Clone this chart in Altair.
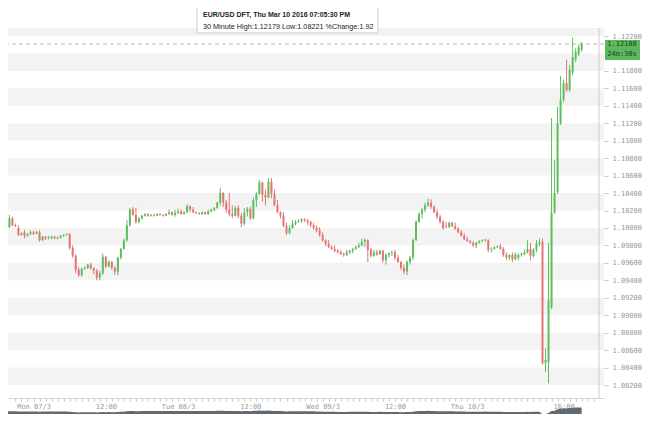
import altair as alt
import pandas as pd

# ---- 30-minute EUR/USD candles (Sun evening -> Thu 19:00) ----
opens = [1.0992,1.1001,1.1011,1.1003,1.1000,1.0992,1.0995,1.0991,1.0993,1.0995,
         1.0993,1.0995,1.0986,1.0990,1.0988,1.0988,1.0990,1.0988,1.0989,1.0991,
         1.0992,1.0993,1.0977,1.0968,1.0952,1.0946,1.0953,1.0954,1.0958,1.0954,
         1.0951,1.0943,1.0948,1.0967,1.0956,1.0961,1.0954,1.0950,1.0966,1.0976,
         1.0986,1.1003,1.1021,1.1015,1.1007,1.1011,1.1014,1.1016,1.1014,1.1015,
         1.1014,1.1016,1.1015,1.1014,1.1016,1.1018,1.1015,1.1017,1.1019,1.1016,
         1.1018,1.1025,1.1021,1.1018,1.1017,1.1016,1.1018,1.1016,1.1019,1.1021,
         1.1023,1.1029,1.1040,1.1029,1.1021,1.1016,1.1014,1.1023,1.1014,1.1005,
         1.1018,1.1022,1.1011,1.1032,1.1039,1.1052,1.1038,1.1035,1.1053,1.1039,
         1.1026,1.1018,1.1014,1.1002,1.0994,1.1000,1.1005,1.1007,1.1008,1.1010,
         1.1009,1.1007,1.1003,1.1000,1.0997,1.0992,1.0986,1.0982,1.0978,1.0976,
         1.0974,1.0972,1.0970,1.0969,1.0972,1.0974,1.0976,1.0978,1.0980,1.0984,
         1.0986,1.0975,1.0968,1.0972,1.0970,1.0974,1.0963,1.0969,1.0971,1.0972,
         1.0966,1.0961,1.0954,1.0950,1.0961,1.0966,1.0986,1.1007,1.1016,1.1021,
         1.1026,1.1029,1.1024,1.1018,1.1013,1.1007,1.1002,1.1001,1.1006,1.1002,
         1.0999,1.0995,1.0991,1.0987,1.0985,1.0983,1.0980,1.0983,1.0985,1.0986,
         1.0986,1.0975,1.0976,1.0978,1.0979,1.0976,1.0969,1.0966,1.0969,1.0964,
         1.0966,1.0969,1.0970,1.0972,1.0976,1.0968,1.0975,1.0982,1.0984,1.0845,
         1.0846,1.0909,1.1018,1.1041,1.1120,1.1147,1.1166,1.1158,1.1178,1.1193,
         1.1199,1.1204]
highs = [1.1003,1.1015,1.1013,1.1005,1.1003,1.0995,1.0998,1.0994,1.0997,1.0997,
         1.0997,1.0997,1.0991,1.0991,1.0991,1.0991,1.0991,1.0990,1.0992,1.0993,
         1.0994,1.0994,1.0980,1.0970,1.0955,1.0955,1.0956,1.0959,1.0960,1.0955,
         1.0953,1.0951,1.0971,1.0968,1.0963,1.0962,1.0956,1.0967,1.0977,1.0988,
         1.1009,1.1023,1.1024,1.1023,1.1013,1.1015,1.1017,1.1017,1.1016,1.1016,
         1.1017,1.1017,1.1016,1.1017,1.1021,1.1019,1.1021,1.1022,1.1021,1.1019,
         1.1027,1.1026,1.1024,1.1019,1.1018,1.1019,1.1019,1.1021,1.1022,1.1024,
         1.1030,1.1046,1.1041,1.1032,1.1040,1.1026,1.1025,1.1026,1.1017,1.1023,
         1.1024,1.1024,1.1035,1.1041,1.1055,1.1053,1.1044,1.1057,1.1057,1.1044,
         1.1032,1.1019,1.1018,1.1006,1.1003,1.1009,1.1009,1.1010,1.1011,1.1011,
         1.1010,1.1008,1.1006,1.1003,1.1001,1.0995,1.0987,1.0986,1.0980,1.0980,
         1.0976,1.0975,1.0972,1.0975,1.0975,1.0977,1.0980,1.0983,1.0988,1.0988,
         1.0987,1.0977,1.0975,1.0975,1.0975,1.0975,1.0971,1.0972,1.0974,1.0975,
         1.0969,1.0962,1.0958,1.0963,1.0968,1.0988,1.1009,1.1018,1.1023,1.1029,
         1.1034,1.1033,1.1026,1.1021,1.1015,1.1009,1.1007,1.1007,1.1007,1.1006,
         1.1001,1.0998,1.0994,1.0990,1.0986,1.0985,1.0984,1.0986,1.0987,1.0987,
         1.0987,1.0978,1.0979,1.0980,1.0982,1.0978,1.0972,1.0970,1.0972,1.0972,
         1.0971,1.0972,1.0975,1.0986,1.0983,1.0977,1.0986,1.0988,1.0988,1.0862,
         1.0983,1.1126,1.1078,1.1139,1.1174,1.1170,1.1193,1.1187,1.1218,1.1206,
         1.1210,1.1213]
lows = [1.0990,1.1000,1.1002,1.1001,1.0991,1.0991,1.0988,1.0990,1.0992,1.0992,
        1.0993,1.0984,1.0985,1.0986,1.0987,1.0987,1.0987,1.0987,1.0988,1.0990,
        1.0991,1.0975,1.0966,1.0948,1.0944,1.0944,1.0952,1.0953,1.0952,1.0947,
        1.0940,1.0940,1.0946,1.0954,1.0955,1.0952,1.0946,1.0946,1.0964,1.0975,
        1.0984,1.1002,1.1014,1.1005,1.1005,1.1010,1.1013,1.1013,1.1013,1.1013,
        1.1014,1.1014,1.1013,1.1014,1.1015,1.1014,1.1013,1.1016,1.1015,1.1015,
        1.1017,1.1018,1.1017,1.1016,1.1015,1.1015,1.1015,1.1015,1.1018,1.1019,
        1.1022,1.1026,1.1024,1.1017,1.1013,1.1011,1.1013,1.1011,1.1001,1.1003,
        1.1013,1.1009,1.1010,1.1024,1.1038,1.1030,1.1026,1.1034,1.1034,1.1025,
        1.1017,1.1011,1.1001,1.0992,1.0993,1.0999,1.1003,1.1006,1.1006,1.1007,
        1.1003,1.1001,1.0998,1.0995,1.0990,1.0984,1.0979,1.0977,1.0975,1.0972,
        1.0971,1.0969,1.0967,1.0968,1.0970,1.0971,1.0975,1.0977,1.0979,1.0978,
        1.0961,1.0966,1.0967,1.0968,1.0969,1.0960,1.0958,1.0966,1.0968,1.0963,
        1.0960,1.0952,1.0947,1.0946,1.0958,1.0963,1.0985,1.1006,1.1011,1.1018,
        1.1024,1.1022,1.1017,1.1010,1.1005,1.0998,1.1000,1.1000,1.1001,1.0998,
        1.0994,1.0990,1.0986,1.0984,1.0982,1.0978,1.0977,1.0982,1.0984,1.0984,
        1.0972,1.0972,1.0975,1.0977,1.0975,1.0967,1.0963,1.0963,1.0961,1.0963,
        1.0963,1.0967,1.0969,1.0971,1.0963,1.0966,1.0972,1.0979,1.0843,1.0835,
        1.0822,1.0907,1.1016,1.1039,1.1118,1.1144,1.1156,1.1156,1.1175,1.1190,
        1.1197,1.1202]
closes = [1.1001,1.1011,1.1003,1.1002,1.0992,1.0994,1.0991,1.0993,1.0995,1.0993,
          1.0995,1.0986,1.0990,1.0988,1.0989,1.0990,1.0988,1.0989,1.0991,1.0992,
          1.0993,1.0977,1.0968,1.0952,1.0946,1.0953,1.0954,1.0958,1.0954,1.0951,
          1.0943,1.0948,1.0967,1.0956,1.0961,1.0954,1.0950,1.0966,1.0976,1.0986,
          1.1003,1.1021,1.1015,1.1007,1.1011,1.1014,1.1016,1.1014,1.1015,1.1014,
          1.1016,1.1015,1.1014,1.1016,1.1018,1.1015,1.1017,1.1019,1.1016,1.1018,
          1.1025,1.1021,1.1018,1.1017,1.1016,1.1018,1.1016,1.1019,1.1021,1.1023,
          1.1029,1.1040,1.1029,1.1021,1.1016,1.1014,1.1023,1.1014,1.1005,1.1018,
          1.1022,1.1011,1.1032,1.1039,1.1052,1.1038,1.1035,1.1053,1.1039,1.1026,
          1.1018,1.1014,1.1002,1.0994,1.1000,1.1005,1.1007,1.1008,1.1010,1.1009,
          1.1007,1.1003,1.1000,1.0997,1.0992,1.0986,1.0982,1.0978,1.0976,1.0974,
          1.0972,1.0970,1.0969,1.0972,1.0974,1.0976,1.0978,1.0980,1.0984,1.0986,
          1.0975,1.0968,1.0972,1.0970,1.0974,1.0963,1.0969,1.0971,1.0972,1.0966,
          1.0961,1.0954,1.0950,1.0961,1.0966,1.0986,1.1007,1.1016,1.1021,1.1026,
          1.1029,1.1024,1.1018,1.1013,1.1007,1.1000,1.1001,1.1006,1.1002,1.0999,
          1.0995,1.0991,1.0987,1.0985,1.0983,1.0980,1.0983,1.0985,1.0986,1.0987,
          1.0975,1.0976,1.0978,1.0979,1.0976,1.0969,1.0966,1.0969,1.0964,1.0970,
          1.0969,1.0970,1.0972,1.0976,1.0968,1.0975,1.0982,1.0984,1.0845,1.0849,
          1.0917,1.1018,1.1040,1.1120,1.1147,1.1166,1.1158,1.1181,1.1196,1.1202,
          1.1207,1.1211]

first_hour = -4.5          # hours relative to Mon 07/3 00:00
candle_step = 0.5          # 30-minute candles
hours = [first_hour + candle_step * i for i in range(len(closes))]

# ---- axes / annotations ----
y_tick_values = [1.082, 1.084, 1.086, 1.088, 1.090, 1.092, 1.094, 1.096, 1.098,
                 1.100, 1.102, 1.104, 1.106, 1.108, 1.110, 1.112, 1.114, 1.116,
                 1.118, 1.122]
band_lo = [1.082, 1.086, 1.090, 1.094, 1.098, 1.102, 1.106, 1.110, 1.114, 1.118, 1.122]
band_hi = [1.084, 1.088, 1.092, 1.096, 1.100, 1.104, 1.108, 1.112, 1.116, 1.120, 1.12292]
x_label_hours = [0, 12, 24, 36, 48, 60, 72, 88]
x_label_text = ["Mon 07/3", "12:00", "Tue 08/3", "12:00", "Wed 09/3", "12:00", "Thu 10/3", "16:00"]
x_minor_ticks = list(range(-3, 94))

last_price = 1.12108
countdown = "24m:30s"
title_line1 = "EUR/USD DFT, Thu Mar 10 2016 07:05:30 PM"
title_line2 = "30 Minute High:1.12179 Low:1.08221 %Change:1.92"

x_domain = [-3.407, 93.88]
y_domain = [1.08051, 1.12521]
plot_top_price = 1.12292
nav_domain = [1.0805, 1.1235]
price_box = [1.12154, 1.11925]       # green last-price tag (top, bottom)
price_box_text_y = [1.12108, 1.11994]

W, H = 596, 390

GREEN = "#5cbf5c"
RED = "#e57373"
FONT_MONO = "DejaVu Sans Mono"

df = pd.DataFrame({"hour": hours, "open": opens, "high": highs, "low": lows, "close": closes})
bands = pd.DataFrame({"lo": band_lo, "hi": band_hi})
one = pd.DataFrame({"k": [0]})   # single row for annotations

label_expr = " : ".join(
    f"datum.value == {h} ? '{t}'" for h, t in zip(x_label_hours, x_label_text)
) + " : ''"

xscale = alt.Scale(domain=x_domain, nice=False, zero=False)
yscale = alt.Scale(domain=y_domain, nice=False, zero=False)

x_axis = alt.Axis(values=x_minor_ticks, labelExpr=label_expr, labelOverlap=False,
                  grid=False, domainColor="#d8d8d8", tickColor="#c8c8c8", tickSize=3,
                  labelFont=FONT_MONO, labelFontSize=7, labelColor="#999999",
                  labelPadding=1, title=None)
y_axis = alt.Axis(orient="right", values=y_tick_values, format=".5f", grid=False,
                  labelOverlap=False, domain=False, tickColor="#c8c8c8", tickSize=4,
                  labelPadding=4, labelFont=FONT_MONO, labelFontSize=7,
                  labelColor="#999999", title=None)

band_layer = alt.Chart(bands).mark_rect(color="#f4f3f3").encode(
    y=alt.Y("lo:Q", scale=yscale, axis=y_axis), y2="hi:Q")

candle_base = alt.Chart(df).transform_calculate(
    dir="datum.close >= datum.open ? 'up' : 'down'"
).encode(
    x=alt.X("hour:Q", scale=xscale, axis=x_axis),
    color=alt.Color("dir:N", scale=alt.Scale(domain=["up", "down"], range=[GREEN, RED]), legend=None),
)
wicks = candle_base.mark_rule(strokeWidth=1).encode(y=alt.Y("low:Q", axis=y_axis), y2="high:Q")
bodies = candle_base.mark_bar(size=2).encode(y=alt.Y("open:Q", axis=y_axis), y2="close:Q")

price_line = alt.Chart(one).mark_rule(color="#bbbbbb", strokeDash=[4, 3], strokeWidth=1).encode(
    y=alt.datum(last_price, axis=y_axis))

axis_line = alt.Chart(one).mark_rule(color="#cccccc", strokeWidth=1).encode(
    x=alt.datum(x_domain[1], axis=x_axis), y=alt.datum(plot_top_price, axis=y_axis),
    y2=alt.datum(y_domain[0]))

box = alt.Chart(one).mark_rect(color="#5cb85c").encode(
    x=alt.value(W + 1), x2=alt.value(W + 36),
    y=alt.datum(price_box[0], axis=y_axis), y2=alt.datum(price_box[1]))
box_text = alt.Chart(one).mark_text(font=FONT_MONO, fontSize=7, color="#1f3d1f", align="center",
                                    baseline="middle").encode(
    x=alt.value(W + 18), y=alt.datum(price_box_text_y[0], axis=y_axis),
    text=alt.datum(f"{last_price:.5f}"))
box_text2 = alt.Chart(one).mark_text(font=FONT_MONO, fontSize=7, color="#1f3d1f", align="center",
                                     baseline="middle").encode(
    x=alt.value(W + 18), y=alt.datum(price_box_text_y[1], axis=y_axis), text=alt.datum(countdown))

tip_box = alt.Chart(one).mark_rect(fill="white", stroke="#cccccc", strokeWidth=1).encode(
    x=alt.value(189), x2=alt.value(370), y=alt.value(-3), y2=alt.value(25))
tip_1 = alt.Chart(one).mark_text(font="Liberation Sans", fontSize=7, fontWeight="bold",
                                 color="#222222", align="left", baseline="alphabetic").encode(
    x=alt.value(195), y=alt.value(9), text=alt.datum(title_line1))
tip_2 = alt.Chart(one).mark_text(font="Liberation Sans", fontSize=7.25,
                                 color="#222222", align="left", baseline="alphabetic").encode(
    x=alt.value(195), y=alt.value(21), text=alt.datum(title_line2))

main = alt.layer(band_layer, price_line, wicks, bodies, axis_line, box, box_text, box_text2,
                 tip_box, tip_1, tip_2)

nav = alt.Chart(df).mark_area(color="#5f6a73", opacity=1).encode(
    x=alt.X("hour:Q", scale=xscale, axis=x_axis),
    y=alt.Y("close:Q", scale=alt.Scale(domain=nav_domain, range=[H + 17, H + 9], nice=False, zero=False),
            axis=None),
    y2=alt.datum(nav_domain[0]),
)

chart = alt.layer(main, nav).resolve_scale(y="independent").properties(
    width=W, height=H,
    padding={"left": 0, "top": 0, "right": 38, "bottom": 16},
    autosize=alt.AutoSizeParams(type="none"),
    background="white",
).configure_view(stroke=None).configure_axis(labelOverlap=False)

chart.save("out.html", embed_options={"renderer": "svg", "actions": False})
